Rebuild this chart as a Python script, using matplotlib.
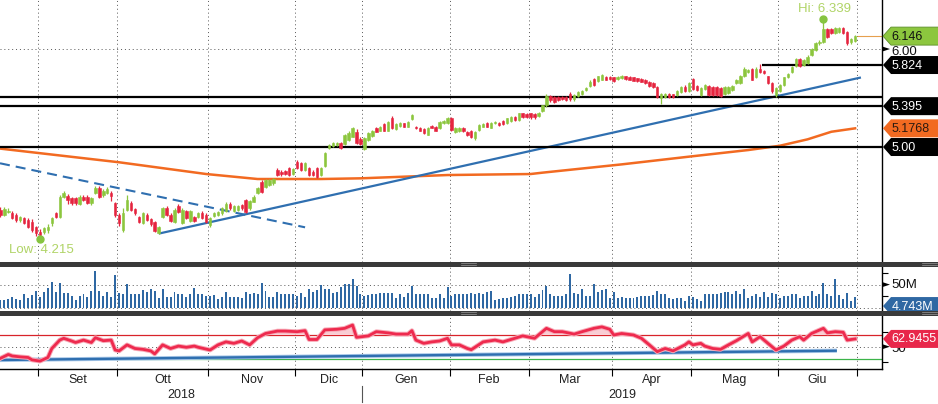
import numpy as np
import pandas as pd
import matplotlib
matplotlib.use("Agg")
import matplotlib.pyplot as plt
from matplotlib.patches import Polygon, Rectangle
from matplotlib.ticker import NullLocator

plt.rcParams['font.family'] = ['Liberation Sans', 'DejaVu Sans']

# ---- trading days (Borsa Italiana holidays removed) ----
holidays = ['2018-12-24', '2018-12-25', '2018-12-26', '2018-12-31',
            '2019-01-01', '2019-04-19', '2019-04-22', '2019-05-01']
dates = pd.bdate_range('2018-08-20', '2019-06-28')
dates = dates[~dates.isin(pd.to_datetime(holidays))]

month_names = ['Set', 'Ott', 'Nov', 'Dic', 'Gen', 'Feb', 'Mar', 'Apr', 'Mag', 'Giu']
year_names = ['2018', '2019']

# ---- OHLC (EUR) ----
opens = [4.450, 4.406, 4.430, 4.425, 4.406, 4.365, 4.379, 4.365, 4.351, 4.311,
         4.271, 4.267, 4.285, 4.338, 4.419, 4.392, 4.559, 4.565, 4.545, 4.545,
         4.497, 4.559, 4.554, 4.503, 4.588, 4.636, 4.573, 4.588, 4.593, 4.503,
         4.406, 4.285, 4.447, 4.503, 4.452, 4.392, 4.338, 4.406, 4.370, 4.351,
         4.258, 4.392, 4.461, 4.406, 4.351, 4.484, 4.343, 4.439, 4.360, 4.392,
         4.392, 4.425, 4.406, 4.325, 4.397, 4.406, 4.419, 4.441, 4.497, 4.441,
         4.447, 4.489, 4.531, 4.461, 4.517, 4.588, 4.688, 4.645, 4.659, 4.674,
         4.791, 4.776, 4.782, 4.806, 4.755, 4.866, 4.850, 4.791, 4.806, 4.776,
         4.806, 4.746, 4.829, 4.988, 5.012, 5.023, 5.035, 5.028, 5.066, 5.097,
         5.145, 5.073, 4.979, 5.066, 5.103, 5.177, 5.155, 5.219, 5.155, 5.274,
         5.168, 5.199, 5.225, 5.193, 5.268, 5.193, 5.177, 5.171, 5.113, 5.199,
         5.193, 5.177, 5.230, 5.230, 5.274, 5.139, 5.148, 5.184, 5.145, 5.155,
         5.082, 5.161, 5.193, 5.230, 5.184, 5.230, 5.230, 5.251, 5.230, 5.251,
         5.290, 5.258, 5.323, 5.316, 5.323, 5.316, 5.297, 5.346, 5.402, 5.498,
         5.490, 5.490, 5.490, 5.490, 5.515, 5.464, 5.498, 5.518, 5.559, 5.596,
         5.678, 5.650, 5.664, 5.699, 5.699, 5.692, 5.671, 5.682, 5.706, 5.699,
         5.692, 5.682, 5.678, 5.664, 5.646, 5.629, 5.590, 5.475, 5.490, 5.515,
         5.515, 5.508, 5.539, 5.590, 5.545, 5.671, 5.601, 5.508, 5.569, 5.604,
         5.590, 5.590, 5.580, 5.515, 5.528, 5.559, 5.629, 5.629, 5.706, 5.753,
         5.778, 5.692, 5.785, 5.760, 5.706, 5.629, 5.508, 5.552, 5.611, 5.692,
         5.749, 5.812, 5.886, 5.824, 5.845, 5.933, 5.989, 6.064, 6.083, 6.224,
         6.224, 6.178, 6.190, 6.236, 6.196, 6.080, 6.090]
closes = [4.406, 4.455, 4.441, 4.380, 4.365, 4.392, 4.343, 4.311, 4.285, 4.258,
          4.245, 4.298, 4.311, 4.379, 4.387, 4.559, 4.593, 4.531, 4.503, 4.503,
          4.559, 4.531, 4.508, 4.545, 4.636, 4.559, 4.607, 4.622, 4.565, 4.406,
          4.338, 4.419, 4.531, 4.447, 4.419, 4.351, 4.419, 4.365, 4.333, 4.277,
          4.311, 4.461, 4.406, 4.360, 4.447, 4.433, 4.447, 4.379, 4.441, 4.360,
          4.425, 4.379, 4.351, 4.379, 4.419, 4.433, 4.461, 4.497, 4.461, 4.481,
          4.481, 4.461, 4.433, 4.522, 4.559, 4.630, 4.602, 4.702, 4.702, 4.711,
          4.746, 4.755, 4.755, 4.746, 4.797, 4.806, 4.791, 4.850, 4.746, 4.746,
          4.732, 4.806, 4.941, 5.019, 5.035, 5.035, 4.988, 5.113, 5.136, 5.177,
          5.035, 5.028, 5.082, 5.129, 5.152, 5.145, 5.193, 5.155, 5.241, 5.177,
          5.219, 5.225, 5.193, 5.241, 5.307, 5.177, 5.155, 5.129, 5.184, 5.184,
          5.155, 5.241, 5.251, 5.274, 5.161, 5.184, 5.184, 5.148, 5.113, 5.090,
          5.145, 5.209, 5.219, 5.193, 5.230, 5.241, 5.209, 5.219, 5.274, 5.290,
          5.258, 5.323, 5.290, 5.290, 5.284, 5.284, 5.330, 5.402, 5.498, 5.457,
          5.440, 5.460, 5.470, 5.460, 5.464, 5.508, 5.539, 5.552, 5.583, 5.648,
          5.611, 5.703, 5.717, 5.664, 5.671, 5.650, 5.699, 5.706, 5.671, 5.664,
          5.657, 5.650, 5.643, 5.629, 5.601, 5.590, 5.488, 5.518, 5.518, 5.484,
          5.490, 5.552, 5.590, 5.545, 5.629, 5.569, 5.559, 5.580, 5.611, 5.508,
          5.508, 5.508, 5.502, 5.590, 5.590, 5.601, 5.664, 5.706, 5.785, 5.770,
          5.664, 5.785, 5.749, 5.737, 5.629, 5.545, 5.580, 5.611, 5.692, 5.728,
          5.802, 5.886, 5.812, 5.878, 5.914, 5.996, 6.064, 6.083, 6.224, 6.140,
          6.178, 6.236, 6.236, 6.178, 6.064, 6.110, 6.146]
highs = [4.47, 4.47, 4.46, 4.44, 4.42, 4.40, 4.39, 4.38, 4.37, 4.32,
         4.29, 4.31, 4.33, 4.39, 4.43, 4.57, 4.61, 4.58, 4.56, 4.56,
         4.57, 4.57, 4.57, 4.56, 4.65, 4.65, 4.62, 4.64, 4.61, 4.51,
         4.42, 4.46, 4.57, 4.52, 4.46, 4.40, 4.43, 4.42, 4.38, 4.36,
         4.32, 4.47, 4.48, 4.42, 4.46, 4.50, 4.46, 4.45, 4.45, 4.40,
         4.43, 4.44, 4.42, 4.39, 4.43, 4.44, 4.47, 4.51, 4.51, 4.49,
         4.49, 4.50, 4.54, 4.53, 4.57, 4.64, 4.70, 4.71, 4.71, 4.72,
         4.81, 4.79, 4.79, 4.82, 4.81, 4.88, 4.86, 4.86, 4.82, 4.79,
         4.82, 4.82, 4.95, 5.03, 5.05, 5.05, 5.05, 5.12, 5.15, 5.19,
         5.17, 5.09, 5.09, 5.14, 5.16, 5.19, 5.20, 5.23, 5.25, 5.30,
         5.23, 5.24, 5.23, 5.25, 5.32, 5.20, 5.19, 5.18, 5.19, 5.21,
         5.20, 5.25, 5.26, 5.29, 5.29, 5.19, 5.19, 5.19, 5.15, 5.16,
         5.15, 5.22, 5.23, 5.24, 5.24, 5.25, 5.24, 5.26, 5.28, 5.30,
         5.30, 5.33, 5.33, 5.33, 5.33, 5.33, 5.34, 5.41, 5.52, 5.51,
         5.50, 5.50, 5.50, 5.50, 5.54, 5.52, 5.55, 5.56, 5.59, 5.66,
         5.69, 5.71, 5.73, 5.71, 5.71, 5.70, 5.71, 5.72, 5.71, 5.71,
         5.70, 5.69, 5.69, 5.67, 5.65, 5.64, 5.60, 5.53, 5.53, 5.53,
         5.52, 5.56, 5.60, 5.61, 5.64, 5.68, 5.61, 5.59, 5.62, 5.61,
         5.60, 5.60, 5.59, 5.60, 5.60, 5.61, 5.67, 5.72, 5.80, 5.78,
         5.79, 5.80, 5.83, 5.77, 5.71, 5.64, 5.59, 5.62, 5.70, 5.74,
         5.81, 5.90, 5.90, 5.89, 5.93, 6.01, 6.08, 6.10, 6.339, 6.24,
         6.24, 6.25, 6.25, 6.25, 6.21, 6.12, 6.16]
lows = [4.39, 4.40, 4.42, 4.37, 4.35, 4.35, 4.33, 4.30, 4.27, 4.24,
        4.215, 4.25, 4.26, 4.32, 4.38, 4.38, 4.55, 4.50, 4.49, 4.49,
        4.49, 4.52, 4.50, 4.49, 4.58, 4.55, 4.56, 4.58, 4.52, 4.39,
        4.32, 4.27, 4.44, 4.44, 4.41, 4.34, 4.33, 4.36, 4.32, 4.27,
        4.25, 4.38, 4.40, 4.35, 4.34, 4.42, 4.33, 4.37, 4.35, 4.35,
        4.38, 4.37, 4.34, 4.31, 4.39, 4.40, 4.41, 4.43, 4.45, 4.43,
        4.44, 4.45, 4.42, 4.45, 4.51, 4.58, 4.59, 4.63, 4.65, 4.66,
        4.74, 4.74, 4.75, 4.74, 4.75, 4.80, 4.78, 4.78, 4.74, 4.74,
        4.72, 4.74, 4.82, 4.98, 5.00, 5.01, 4.98, 5.02, 5.06, 5.09,
        5.03, 5.02, 4.97, 5.06, 5.09, 5.14, 5.15, 5.15, 5.15, 5.17,
        5.16, 5.19, 5.19, 5.19, 5.26, 5.17, 5.15, 5.12, 5.11, 5.18,
        5.15, 5.17, 5.22, 5.22, 5.15, 5.13, 5.14, 5.14, 5.10, 5.08,
        5.07, 5.15, 5.19, 5.19, 5.18, 5.22, 5.20, 5.21, 5.22, 5.24,
        5.25, 5.25, 5.28, 5.28, 5.27, 5.27, 5.29, 5.34, 5.39, 5.44,
        5.43, 5.45, 5.46, 5.45, 5.45, 5.45, 5.49, 5.51, 5.55, 5.59,
        5.60, 5.64, 5.66, 5.66, 5.66, 5.64, 5.66, 5.67, 5.66, 5.66,
        5.65, 5.64, 5.64, 5.62, 5.59, 5.58, 5.48, 5.42, 5.48, 5.48,
        5.48, 5.50, 5.53, 5.54, 5.54, 5.56, 5.55, 5.50, 5.56, 5.50,
        5.50, 5.50, 5.49, 5.51, 5.52, 5.55, 5.62, 5.62, 5.70, 5.74,
        5.66, 5.68, 5.74, 5.73, 5.62, 5.53, 5.49, 5.54, 5.60, 5.68,
        5.74, 5.80, 5.80, 5.81, 5.83, 5.92, 5.98, 6.05, 6.07, 6.13,
        6.17, 6.17, 6.18, 6.17, 6.05, 6.06, 6.08]

# ---- volume (millions of shares) ----
volume = [18, 18, 19, 23, 19, 18, 30, 21, 28, 36,
          23, 34, 43, 55, 35, 53, 33, 33, 26, 18,
          26, 31, 24, 36, 79, 36, 26, 34, 24, 71,
          33, 31, 51, 31, 30, 31, 38, 35, 40, 37,
          21, 41, 24, 24, 35, 31, 31, 24, 30, 43,
          31, 30, 26, 26, 28, 19, 24, 34, 24, 24,
          24, 21, 34, 30, 33, 31, 54, 36, 24, 24,
          34, 30, 30, 30, 30, 26, 33, 24, 40, 35,
          38, 50, 40, 40, 33, 35, 45, 52, 51, 62,
          48, 30, 26, 28, 30, 30, 33, 33, 33, 33,
          21, 30, 24, 33, 46, 31, 30, 31, 31, 21,
          22, 30, 21, 44, 26, 31, 30, 30, 31, 33,
          31, 33, 30, 34, 36, 18, 19, 21, 22, 24,
          26, 31, 30, 30, 31, 24, 31, 38, 48, 30,
          26, 26, 26, 31, 73, 33, 30, 41, 26, 26,
          51, 35, 38, 40, 21, 35, 22, 24, 22, 22,
          22, 24, 26, 26, 26, 28, 36, 30, 30, 21,
          19, 21, 21, 15, 26, 24, 19, 15, 30, 30,
          30, 31, 33, 34, 35, 31, 36, 31, 40, 21,
          26, 30, 24, 35, 24, 33, 31, 22, 26, 26,
          30, 31, 22, 26, 26, 36, 26, 31, 53, 31,
          26, 62, 28, 19, 33, 15, 23]

# ---- RSI (vertices, by trading-day index) ----
rsi_day = [0, 2, 3, 5, 7, 8, 10, 12, 13, 15, 16, 18, 19, 21, 23, 24, 26, 28, 29, 30,
           32, 34, 36, 38, 39, 41, 43, 45, 47, 49, 50, 53, 55, 57, 59, 61, 63, 65, 67, 70,
           72, 75, 77, 78, 80, 82, 85, 87, 89, 90, 93, 95, 98, 100, 103, 104, 105, 107, 109, 111,
           113, 114, 116, 118, 119, 122, 125, 127, 130, 132, 135, 138, 140, 142, 145, 147, 150, 152, 154, 155,
           157, 160, 162, 164, 166, 168, 170, 173, 174, 175, 177, 178, 180, 182, 184, 186, 189, 190, 192, 193,
           196, 198, 200, 202, 203, 205, 208, 209, 211, 213, 214, 215, 216]
rsi_val = [30.6, 37, 34.5, 33, 32, 28, 26, 32, 47, 61, 64, 59.5, 57, 61, 57, 65, 60, 61, 44.5, 43,
           53, 47, 45.6, 43, 38, 53, 47, 51, 49, 51, 49, 44.5, 53, 58, 55.6, 59.5, 53, 65, 72, 76,
           76, 75, 76.7, 62, 62, 78, 79, 80.6, 86, 65.6, 68, 75, 73, 71, 71, 76.7, 61, 55.6, 58, 59.5,
           64, 53, 53, 47, 45, 58, 61, 58, 64, 68, 64, 80.6, 75, 75, 71, 75, 80.6, 83, 79, 69.5,
           72, 69.5, 64, 53, 41.7, 47, 43, 53, 58, 53, 55.6, 51, 47, 45.6, 53, 60, 72, 58, 66.7, 61,
           44.5, 51, 61, 66.7, 61, 72, 80.6, 73, 75, 74, 61, 62, 62.9455]

# ---- moving average (orange) vertices ----
ma_day = [0, 30, 52, 65, 81, 91, 113, 134, 137, 157, 174, 189, 197, 204, 210, 216]
ma_val = [4.985, 4.860, 4.755, 4.711, 4.711, 4.717, 4.746, 4.755, 4.767, 4.841,
          4.911, 4.972, 5.012, 5.072, 5.144, 5.1768]

# ---- drawn studies ----
down_day, down_val = [-0.1, 77.0], [4.851, 4.306]      # dashed downtrend
up_day, up_val = [40.3, 217.2], [4.258, 5.688]          # uptrend
levels = [5.49, 5.395, 5.00]                            # horizontal supports
res_day, res_val = 192.5, 5.824                         # resistance from June high
rsi_tr_day, rsi_tr_val = [-0.1, 211.4], [27.8, 43.3]    # RSI trendline
last_vol = 4.743

GREEN = '#8cc63e'
RED = '#e5243f'
BLUE = '#2f6fb0'
VBLUE = '#2f68a3'
ORANGE = '#f26a21'
GRID = dict(color='#555555', lw=0.7, ls=(0, (1, 3)))

W, H = 938, 404
fig = plt.figure(figsize=(W / 100, H / 100), dpi=100)


def px_axes(top, bottom, right=882):
    return fig.add_axes([0, (H - bottom) / H, right / W, (bottom - top) / H])


ax = px_axes(0, 262)
axv = px_axes(266.5, 311)
axr = px_axes(315.5, 369)

n = len(opens)
x = np.arange(n)
o, c, hi, lo = map(np.array, (opens, closes, highs, lows))
XL = (-0.1, 222.8)

months = dates.to_period('M')
starts = [i for i in range(1, n) if months[i] != months[i - 1]]
bounds = [s - 0.5 for s in starts] + [n - 0.5]

for a in (ax, axv, axr):
    a.set_xlim(*XL)
    for s in ('top', 'left', 'bottom'):
        a.spines[s].set_visible(False)
    a.spines['right'].set_linewidth(1.0)
    a.set_xticks([])
    for b in bounds:
        a.axvline(b, zorder=1, **GRID)
    a.yaxis.tick_right()

# ---- price panel ----
ax.set_yscale('log')
ax.set_ylim(4.037, 6.573)
ax.yaxis.set_major_locator(NullLocator())
ax.yaxis.set_minor_locator(NullLocator())
ax.axhline(6.0, zorder=1, **GRID)

ax.plot(ma_day, ma_val, color=ORANGE, lw=1.8, zorder=2)
ax.plot(down_day, down_val, color=BLUE, lw=1.5, dashes=(4.8, 2.9), zorder=2)
ax.plot(up_day, up_val, color=BLUE, lw=1.6, zorder=2)
for lv in levels:
    ax.axhline(lv, color='black', lw=1.6, zorder=2)
ax.hlines(res_val, res_day, XL[1], color='black', lw=1.6, zorder=2)
ax.hlines(c[-1], n - 0.6, XL[1], color='#e6a04e', lw=0.8, zorder=2)

col = np.where(c >= o, GREEN, RED)
ax.vlines(x, lo, hi, colors=col, lw=0.9, zorder=3)
ax.bar(x, np.abs(c - o), bottom=np.minimum(o, c), width=0.62, color=col,
       edgecolor=col, linewidth=0.4, zorder=4)

ih, il = int(np.argmax(hi)), int(np.argmin(lo))
for i, v, dy, lab in ((ih, hi[ih], 10, 'Hi'), (il, lo[il], -11, 'Low')):
    ax.plot(i, v, 'o', ms=5, color='#86c440', zorder=6)
    ax.annotate(f'{lab}: {v:.3f}', (i, v), xytext=(1, dy), textcoords='offset pixels',
                ha='center', va='center', color='#b0d466', fontsize=9.5, zorder=6)

# ---- volume panel ----
axv.set_ylim(-5.7, 88.2)
axv.bar(x, volume, width=0.5, color=VBLUE, zorder=3)
axv.axhline(50, zorder=1, **GRID)
axv.axhline(0, zorder=1, **GRID)
axv.set_yticks([25, 75])
axv.tick_params(axis='y', length=4, width=0.8, labelright=False)

# ---- RSI panel ----
axr.set_ylim(12.8, 102)
rd, rv = np.array(rsi_day), np.array(rsi_val)
axr.axhline(70, color='#d8232a', lw=0.9, zorder=2)
axr.axhline(30, color='#3cb44a', lw=0.9, zorder=2)
axr.axhline(50, zorder=1, **GRID)
axr.fill_between(rd, 70, rv, where=rv > 70, interpolate=True, color='#f9cdd4', lw=0, zorder=2)
axr.plot(rsi_tr_day, rsi_tr_val, color='#a9c8e8', lw=3.0, zorder=3, solid_capstyle='butt')
axr.plot(rsi_tr_day, rsi_tr_val, color=BLUE, lw=1.7, zorder=3, solid_capstyle='butt')
axr.plot(rd, rv, color='#f7a9b6', lw=3.4, zorder=4)
axr.plot(rd, rv, color='#ee2a4e', lw=2.0, zorder=4)
axr.spines['bottom'].set_visible(True)
axr.spines['bottom'].set_linewidth(1.0)
axr.set_yticks([25, 75])
axr.tick_params(axis='y', length=4, width=0.8, labelright=False)
axr.set_xticks(bounds)
axr.tick_params(axis='x', length=5, width=0.8, direction='out', labelbottom=False)

# ---- overlay in pixel coordinates: labels, separators, axis texts ----
ov = fig.add_axes([0, 0, 1, 1], zorder=10)
ov.set_xlim(0, W)
ov.set_ylim(H, 0)
ov.axis('off')
ov.patch.set_alpha(0)


def ypix(a, v):
    return H - a.transData.transform((0, v))[1]


def xpix(v):
    return axr.transData.transform((v, 0))[0]


def arrow(y):
    ov.add_patch(Polygon([(882, y - 2.6), (890, y), (882, y + 2.6)], closed=True,
                         fc='black', ec='none', zorder=2))


def tag(y, text, face, tc, ec='none'):
    ov.add_patch(Polygon([(883, y), (891, y - 9), (942, y - 9), (942, y + 9), (891, y + 9)],
                         closed=True, fc=face, ec=ec, lw=0.6, zorder=5))
    ov.text(891.5, y + 0.5, text, color=tc, fontsize=9, va='center', ha='left', zorder=6)


y6 = ypix(ax, 6.0)
arrow(y6)
ov.text(891, y6 + 2.5, '6.00', fontsize=9.5, va='center', ha='left', color='#111', zorder=3)
y50m = ypix(axv, 50)
arrow(y50m)
ov.text(891, y50m, '50M', fontsize=9.5, va='center', ha='left', color='#111', zorder=3)
y50 = ypix(axr, 50)
arrow(y50)
ov.text(891, y50 + 2.5, '50', fontsize=9.5, va='center', ha='left', color='#111', zorder=3)

tag(ypix(ax, c[-1]), f'{c[-1]:.3f}', GREEN, '#111', ec='#5d8f2a')
tag(ypix(ax, res_val), f'{res_val:.3f}', 'black', 'white')
tag(ypix(ax, levels[1]), f'{levels[1]:.3f}', 'black', 'white')
tag(ypix(ax, ma_val[-1]), f'{ma_val[-1]:.4f}', ORANGE, '#2b1a10')
tag(ypix(ax, levels[2]), f'{levels[2]:.2f}', 'black', 'white')
tag(ypix(axv, last_vol), f'{last_vol:.3f}M', VBLUE, 'white')
tag(ypix(axr, rsi_val[-1]), f'{rsi_val[-1]:.4f}', '#e8274a', 'white')

# panel separators with grips
for top in (262, 311):
    ov.add_patch(Rectangle((0, top), W, 4.5, fc='#3a3a3a', ec='none', zorder=8))
    for gx in (461, 922):
        for dy in (1.3, 3.0):
            ov.plot([gx, gx + 15], [top + dy, top + dy], color='#9a9a9a', lw=0.5, zorder=9)

# month and year labels
for k, name in enumerate(month_names):
    ov.text(xpix((bounds[k] + bounds[k + 1]) / 2), 380, name, fontsize=9,
            ha='center', va='center', color='#222')
jan = bounds[month_names.index('Gen')]
ov.text(xpix((XL[0] + jan) / 2), 395, year_names[0], fontsize=9, ha='center', va='center', color='#222')
ov.text(xpix((jan + XL[1]) / 2), 395, year_names[1], fontsize=9, ha='center', va='center', color='#222')
ov.plot([xpix(jan)] * 2, [386, 402], color='#555', lw=0.8)

fig.savefig('out.png', dpi=100, facecolor='white')
